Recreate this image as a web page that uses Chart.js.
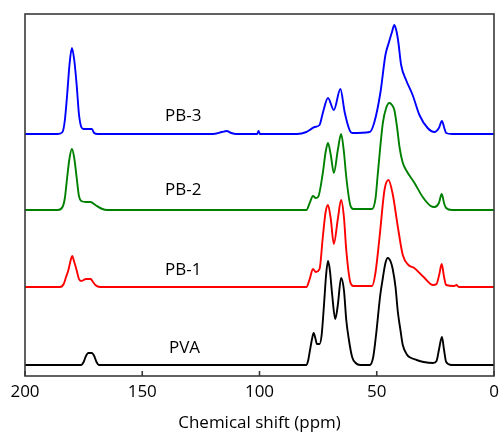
<!DOCTYPE html>
<html>
<head>
<meta charset="utf-8">
<script src="https://cdn.jsdelivr.net/npm/chart.js@4/dist/chart.umd.min.js"></script>
<style>
html,body{margin:0;padding:0;background:#fff;}
#wrap{width:501px;height:435px;position:relative;}
</style>
</head>
<body>
<div id="wrap"><canvas id="c" width="501" height="435"></canvas></div>
<script>
// ---- data (ppm, intensity above own baseline) ----
const seriesNames = ["PB-3", "PB-2", "PB-1", "PVA"];
const seriesColors = ["#0000ff", "#008000", "#ff0000", "#000000"];
const baselines = [242, 166, 89, 11];

const pb3 = [[200,0],[186,0],[184,2],[183,14],[182,40],[181,70],[180,86],[179,74],[178,50],[177,20],[176,7],[175,5],[173,5],[171.5,5],[170.5,1],[169,0],
  [120,0],[116,2],[114,3],[112,1],[110,0],[101,0],[100.4,3],[99.8,0],[84,0],[80,2],[78.6,4],[76.5,7],[74.4,9],[73,21],[70.8,36],[68.3,24],[65.5,45],[63.7,22],[61.6,4],[60.5,1],
  [53,2],[51,12],[48.4,42],[46.3,79],[44.9,91],[43.5,102],[42.5,109],[41.6,103],[40.8,92],[39.6,69],[37.5,54],[34.7,39],[31.8,19],[28.3,6],[25.4,2],[23.5,6],[22.2,13],[21.2,6],[20.4,1],[18,0],[0,0]];

const pb2 = [[200,0],[186,0],[184,3],[183,12],[182,33],[181,52],[180,61],[179,52],[178,33],[177,14],[176,9],[174,8],[172,8],[170,5],[167,1],[165,0],
  [80,0],[78.6,7],[77.2,14],[76,12],[75,13],[73,37],[71.8,58],[70.8,67],[69.6,55],[68.3,37],[66.6,60],[65.2,76],[64,58],[63,33],[61.3,5],[60,1],
  [52,1],[50.5,12],[49.6,35],[47.4,87],[46,102],[44.6,107],[43.5,105],[42.5,100],[41.3,82],[40.3,63],[39,48],[37.5,40],[33.9,27],[30.4,13],[27,4],[25.4,3],[23.5,7],[22.3,16],[21.2,6],[20.4,2],[18,0],[0,0]];

const pb1 = [[200,0],[185,0],[183.5,3],[182.5,10],[181.6,16],[180.5,27],[179.9,31],[179,25],[178,17],[177,8],[176,6],[174,8],[172,8],[171,5],[170,2],[168,0],
  [80,0],[78.6,8],[77.2,18],[76,15],[74.4,18],[73,50],[71.8,75],[70.8,82],[69.6,68],[68.3,43],[66.6,68],[65.2,87],[64,70],[63,37],[61.3,5],[60,1],
  [52,1],[50.5,15],[48.8,50],[46.7,97],[45,107],[43.2,93],[41,60],[38.9,32],[36.5,22],[34,19],[30,10],[26,2],[24.5,3],[23.3,13],[22.3,23],[21.3,10],[20.4,2],[17,1],[16,2],[15,0],[0,0]];

const pva = [[200,0],[176,0],[175,3],[174,9],[173,12],[171.5,12],[170.5,9],[169.5,3],[168.5,0],
  [80,0],[79.2,5],[78.6,13],[77.6,26],[76.9,32],[76.2,27],[75.5,21],[74.4,21],[73.5,30],[72.5,60],[71.6,90],[70.8,104],[70,95],[69,70],[67.7,46],[66.6,60],[65.2,87],[64,75],[63,45],[62,27],[60.5,8],[59,2],[57,0],
  [53,0],[51.5,8],[50.3,30],[48.5,70],[47.4,87],[46.3,102],[45.3,107],[44,103],[43.2,96],[42,78],[41,53],[39.9,35],[38.9,20],[37,10],[36.1,8],[33,5],[30,3],[26,2],[24.5,4],[23.5,15],[22.2,28],[21.3,15],[20.4,3],[18,0],[0,0]];

const xTicks = [200, 150, 100, 50, 0];
const labelPositions = [[132.5, 260], [132.5, 186], [132.5, 106], [132, 28]]; // (ppm, y) anchors for series names
const xTitle = "Chemical shift (ppm)";

const allSeries = [pb3, pb2, pb1, pva];

const framePlugin = {
  id: 'frame',
  afterDatasetsDraw(chart) {
    const {ctx, chartArea: a, scales} = chart;
    ctx.save();
    ctx.strokeStyle = '#3a3a3a';
    ctx.lineWidth = 1.6;
    ctx.strokeRect(a.left, a.top, a.right - a.left, a.bottom - a.top);
    ctx.beginPath();
    xTicks.forEach(t => {
      const px = scales.x.getPixelForValue(t);
      ctx.moveTo(px, a.bottom);
      ctx.lineTo(px, a.bottom - 5);
    });
    ctx.stroke();
    ctx.fillStyle = '#000';
    ctx.font = '17px "Open Sans"';
    ctx.textAlign = 'center';
    ctx.textBaseline = 'middle';
    seriesNames.forEach((n, i) => {
      const [px, py] = labelPositions[i];
      ctx.fillText(n, scales.x.getPixelForValue(px), scales.y.getPixelForValue(py));
    });
    ctx.restore();
  }
};

new Chart(document.getElementById('c'), {
  type: 'line',
  data: {
    datasets: allSeries.map((s, i) => ({
      label: seriesNames[i],
      data: s.map(p => ({x: p[0], y: p[1] + baselines[i]})),
      borderColor: seriesColors[i],
      borderWidth: 1.9,
      pointRadius: 0,
      fill: false,
      cubicInterpolationMode: 'monotone'
    }))
  },
  options: {
    responsive: false,
    animation: false,
    layout: {padding: {left: 25, right: 7, top: 14, bottom: 0}},
    plugins: {legend: {display: false}, tooltip: {enabled: false}},
    scales: {
      x: {
        type: 'linear', reverse: true, min: 0, max: 200,
        afterBuildTicks(scale) { scale.ticks = xTicks.map(v => ({value: v})); },
        afterFit(scale) { scale.height = 59; scale.paddingLeft = 0; scale.paddingRight = 0; },
        grid: {display: false, drawTicks: false},
        border: {display: false},
        ticks: {color: '#000', font: {family: 'Open Sans', size: 17}, padding: 6, maxRotation: 0, autoSkip: false},
        title: {display: true, text: xTitle, color: '#000', font: {family: 'Open Sans', size: 17}, padding: {top: 0, bottom: 2}}
      },
      y: {type: 'linear', min: 0, max: 362, display: false}
    }
  },
  plugins: [framePlugin]
});
</script>
</body>
</html>
